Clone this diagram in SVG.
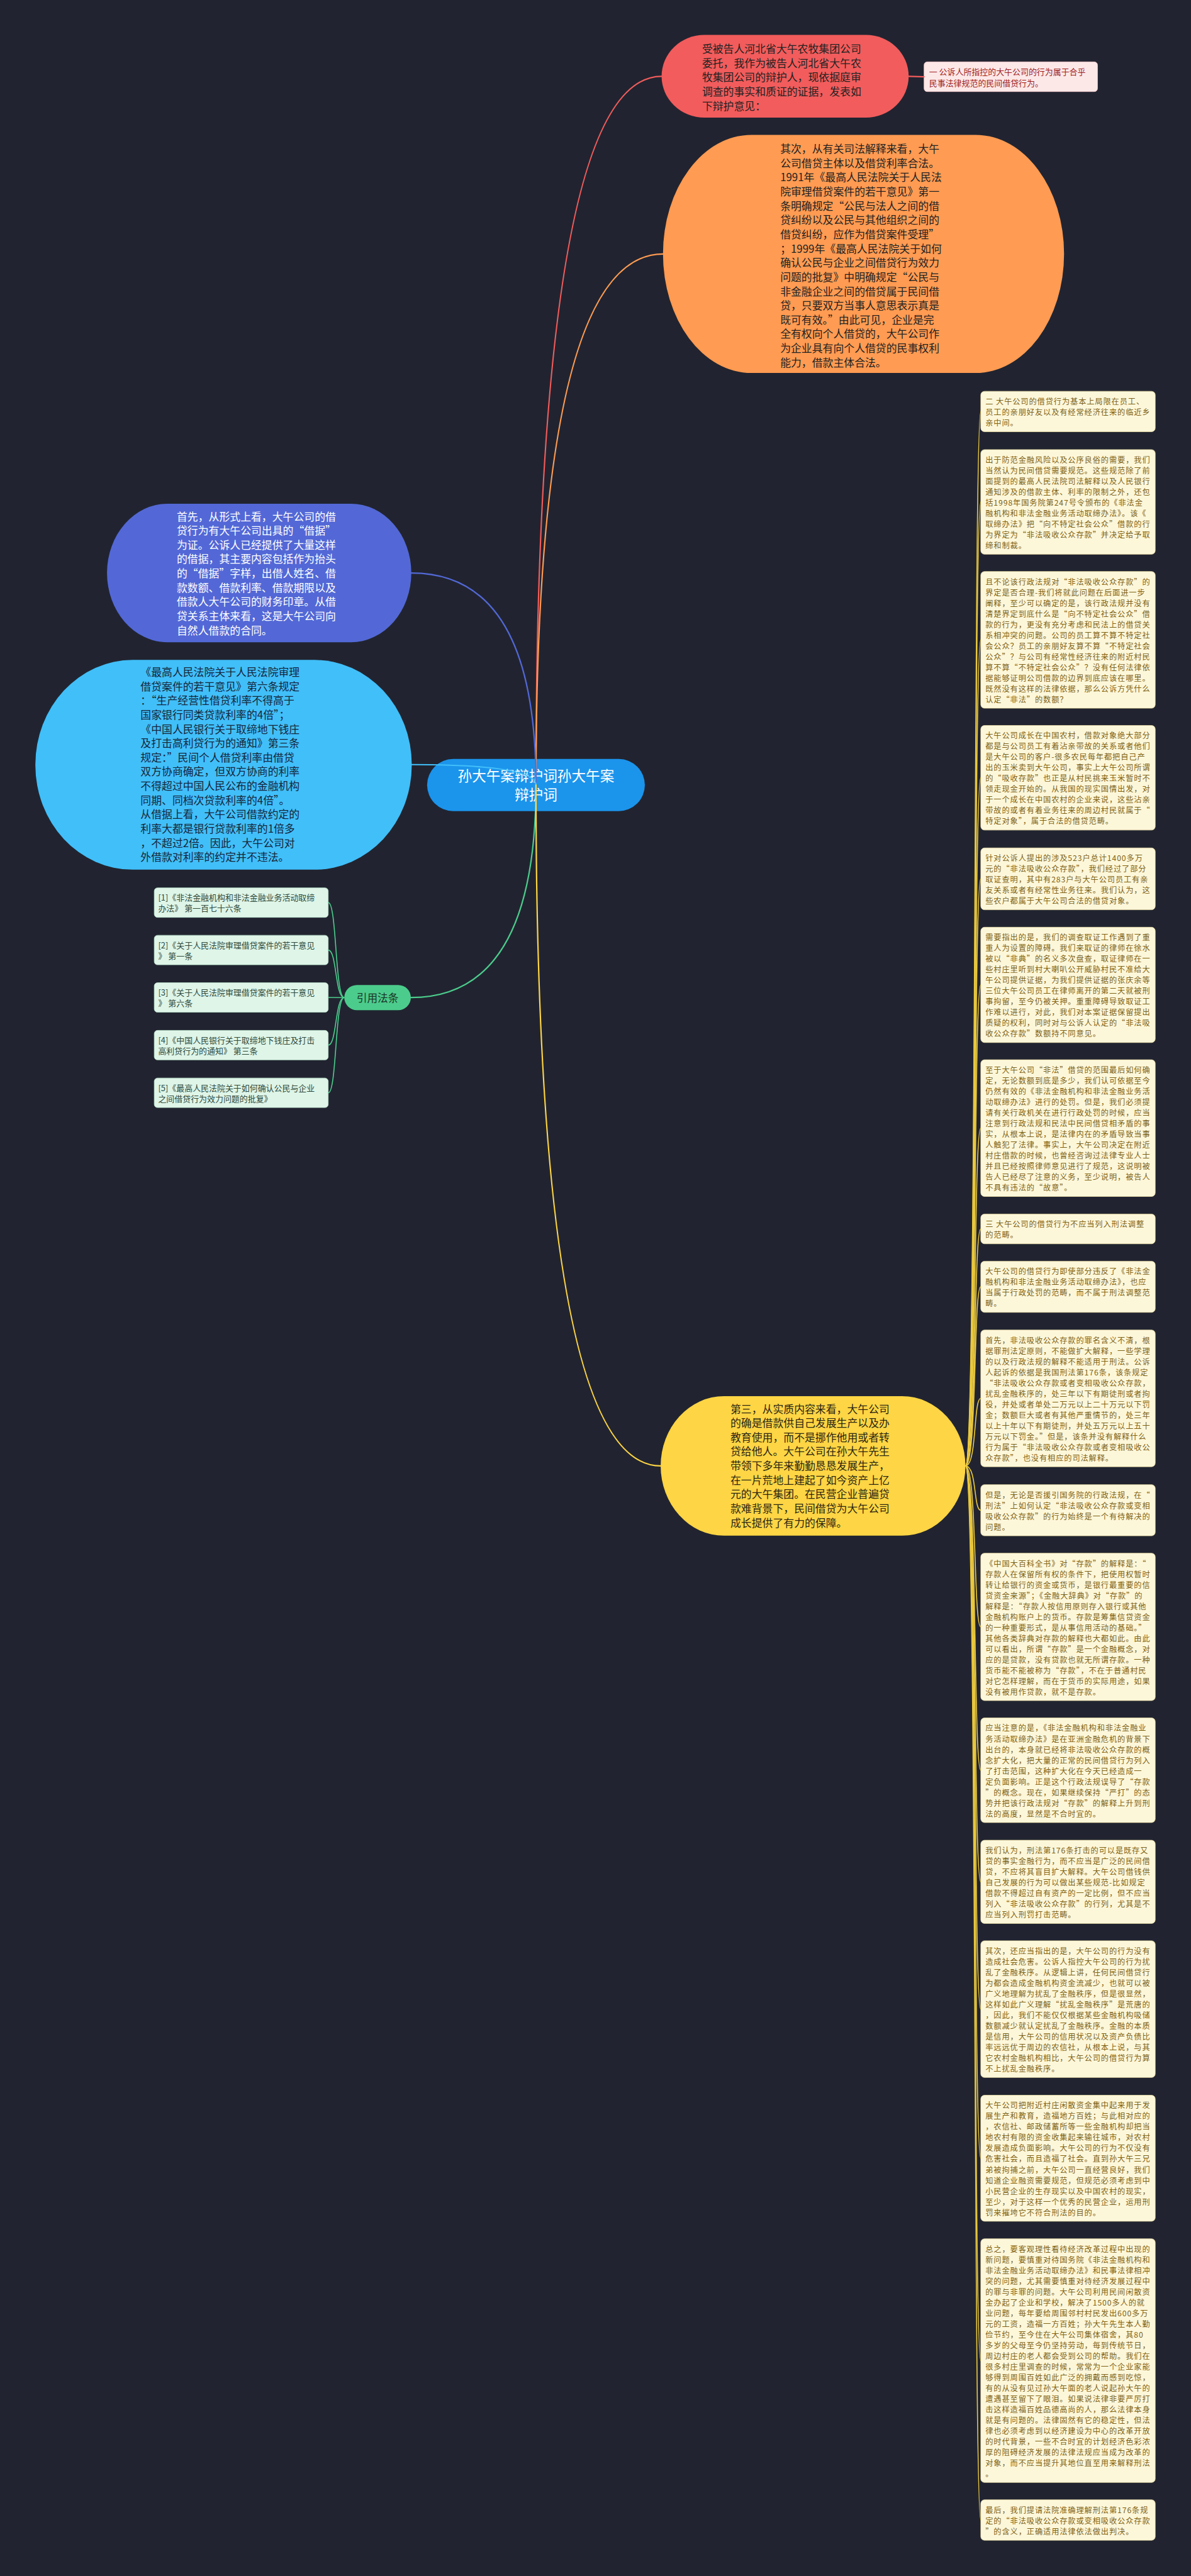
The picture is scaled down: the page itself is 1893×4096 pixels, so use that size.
<svg xmlns="http://www.w3.org/2000/svg" width="1893" height="4096" viewBox="0 0 1893 4096">
<style>
text{font-family:"Noto Sans CJK SC","Noto Sans",sans-serif}
.big{font-size:22.8px}
.dk{fill:#222222}
.wt{fill:#ffffff}
.nt{font-size:16.5px;letter-spacing:1.25px;fill:#7d6213}
.ct{font-size:17.5px;fill:#2f4a3c}
.note{fill:#fdf7da;stroke:#f1e2a8;stroke-width:1}
.cite{fill:#def5e8;stroke:#bfe6cf;stroke-width:1}
.ln{fill:none;stroke-width:3;stroke-linecap:round}
.yl{fill:none;stroke:#e9c83e;stroke-width:2.2}
.gl{fill:none;stroke:#4ccc8c;stroke-width:2.2}
</style>
<rect width="1893" height="4096" fill="#212430"/>
<g transform="scale(0.7395)">

<g id="node-center">
<rect x="918" y="1632" width="468" height="112" rx="56" fill="#1b94ec"/>
<text class="wt" font-size="30.6" text-anchor="middle"><tspan x="1152" y="1679.6">孙大午案辩护词孙大午案</tspan><tspan x="1152" dy="40">辩护词</tspan></text>
</g>

<g id="node-red">
<rect x="1422" y="75" width="531" height="178" rx="92" ry="89" fill="#f25c5c"/>
<text class="big dk"><tspan x="1509" y="113.6">受被告人河北省大午农牧集团公司</tspan><tspan x="1509" dy="30.6">委托，我作为被告人河北省大午农</tspan><tspan x="1509" dy="30.6">牧集团公司的辩护人，现依据庭审</tspan><tspan x="1509" dy="30.6">调查的事实和质证的证据，发表如</tspan><tspan x="1509" dy="30.6">下辩护意见：</tspan></text>
</g>

<g id="node-label1">
<rect x="1986" y="133" width="373" height="64" rx="7" fill="#fde8e8" stroke="#f4c4c4" stroke-width="1"/>
<text font-size="17.5" fill="#9e1e1e"><tspan x="1997" y="161">一 公诉人所指控的大午公司的行为属于合乎</tspan><tspan x="1997" dy="24">民事法律规范的民间借贷行为。</tspan></text>
</g>

<g id="node-orange">
<rect x="1425" y="290" width="862" height="512" rx="190" ry="256" fill="#ff9b52"/>
<text class="big dk"><tspan x="1677" y="328.9">其次，从有关司法解释来看，大午</tspan><tspan x="1677" dy="30.6">公司借贷主体以及借贷利率合法。</tspan><tspan x="1677" dy="30.6">1991年《最高人民法院关于人民法</tspan><tspan x="1677" dy="30.6">院审理借贷案件的若干意见》第一</tspan><tspan x="1677" dy="30.6">条明确规定“公民与法人之间的借</tspan><tspan x="1677" dy="30.6">贷纠纷以及公民与其他组织之间的</tspan><tspan x="1677" dy="30.6">借贷纠纷，应作为借贷案件受理”</tspan><tspan x="1677" dy="30.6">；1999年《最高人民法院关于如何</tspan><tspan x="1677" dy="30.6">确认公民与企业之间借贷行为效力</tspan><tspan x="1677" dy="30.6">问题的批复》中明确规定“公民与</tspan><tspan x="1677" dy="30.6">非金融企业之间的借贷属于民间借</tspan><tspan x="1677" dy="30.6">贷，只要双方当事人意思表示真是</tspan><tspan x="1677" dy="30.6">既可有效。”由此可见，企业是完</tspan><tspan x="1677" dy="30.6">全有权向个人借贷的，大午公司作</tspan><tspan x="1677" dy="30.6">为企业具有向个人借贷的民事权利</tspan><tspan x="1677" dy="30.6">能力，借款主体合法。</tspan></text>
</g>

<g id="node-blue">
<rect x="230" y="1083" width="654" height="298" rx="130" ry="149" fill="#5368d6"/>
<text class="big wt"><tspan x="380" y="1119">首先，从形式上看，大午公司的借</tspan><tspan x="380" dy="30.6">贷行为有大午公司出具的“借据”</tspan><tspan x="380" dy="30.6">为证。公诉人已经提供了大量这样</tspan><tspan x="380" dy="30.6">的借据，其主要内容包括作为抬头</tspan><tspan x="380" dy="30.6">的“借据”字样，出借人姓名、借</tspan><tspan x="380" dy="30.6">款数额、借款利率、借款期限以及</tspan><tspan x="380" dy="30.6">借款人大午公司的财务印章。从借</tspan><tspan x="380" dy="30.6">贷关系主体来看，这是大午公司向</tspan><tspan x="380" dy="30.6">自然人借款的合同。</tspan></text>
</g>

<g id="node-cyan">
<rect x="76" y="1419" width="809" height="451" rx="209" ry="225" fill="#41bff9"/>
<text class="big" fill="#15263a"><tspan x="302" y="1453.7">《最高人民法院关于人民法院审理</tspan><tspan x="302" dy="30.6">借贷案件的若干意见》第六条规定</tspan><tspan x="302" dy="30.6">：“生产经营性借贷利率不得高于</tspan><tspan x="302" dy="30.6">国家银行同类贷款利率的4倍”；</tspan><tspan x="302" dy="30.6">《中国人民银行关于取缔地下钱庄</tspan><tspan x="302" dy="30.6">及打击高利贷行为的通知》第三条</tspan><tspan x="302" dy="30.6">规定：”民间个人借贷利率由借贷</tspan><tspan x="302" dy="30.6">双方协商确定，但双方协商的利率</tspan><tspan x="302" dy="30.6">不得超过中国人民公布的金融机构</tspan><tspan x="302" dy="30.6">同期、同档次贷款利率的4倍”。</tspan><tspan x="302" dy="30.6">从借据上看，大午公司借款约定的</tspan><tspan x="302" dy="30.6">利率大都是银行贷款利率的1倍多</tspan><tspan x="302" dy="30.6">，不超过2倍。因此，大午公司对</tspan><tspan x="302" dy="30.6">外借款对利率的约定并不违法。</tspan></text>
</g>

<g id="node-cite">
<rect x="740" y="2118" width="143" height="54" rx="27" fill="#4ccc8c"/>
<text font-size="22.6" fill="#1b3526" text-anchor="middle" x="811.5" y="2153.6">引用法条</text>
</g>

<g id="cite-1"><rect class="cite" x="331.5" y="1909" width="374" height="63.5" rx="7"/><text class="ct"><tspan x="340" y="1937">[1]《非法金融机构和非法金融业务活动取缔</tspan><tspan x="340" dy="23">办法》 第一百七十六条</tspan></text></g>
<g id="cite-2"><rect class="cite" x="331.5" y="2011" width="374" height="63.5" rx="7"/><text class="ct"><tspan x="340" y="2039">[2]《关于人民法院审理借贷案件的若干意见</tspan><tspan x="340" dy="23">》 第一条</tspan></text></g>
<g id="cite-3"><rect class="cite" x="331.5" y="2113" width="374" height="63.5" rx="7"/><text class="ct"><tspan x="340" y="2141">[3]《关于人民法院审理借贷案件的若干意见</tspan><tspan x="340" dy="23">》 第六条</tspan></text></g>
<g id="cite-4"><rect class="cite" x="331.5" y="2215.5" width="374" height="63.5" rx="7"/><text class="ct"><tspan x="340" y="2243.5">[4]《中国人民银行关于取缔地下钱庄及打击</tspan><tspan x="340" dy="23">高利贷行为的通知》 第三条</tspan></text></g>
<g id="cite-5"><rect class="cite" x="331.5" y="2318" width="374" height="63.5" rx="7"/><text class="ct"><tspan x="340" y="2346">[5]《最高人民法院关于如何确认公民与企业</tspan><tspan x="340" dy="23">之间借贷行为效力问题的批复》</tspan></text></g>

<g id="node-yellow">
<rect x="1420" y="3002" width="655" height="300" rx="136" ry="150" fill="#fed544"/>
<text class="big" fill="#2b2713"><tspan x="1570" y="3038">第三，从实质内容来看，大午公司</tspan><tspan x="1570" dy="30.6">的确是借款供自己发展生产以及办</tspan><tspan x="1570" dy="30.6">教育使用，而不是挪作他用或者转</tspan><tspan x="1570" dy="30.6">贷给他人。大午公司在孙大午先生</tspan><tspan x="1570" dy="30.6">带领下多年来勤勤恳恳发展生产，</tspan><tspan x="1570" dy="30.6">在一片荒地上建起了如今资产上亿</tspan><tspan x="1570" dy="30.6">元的大午集团。在民营企业普遍贷</tspan><tspan x="1570" dy="30.6">款难背景下，民间借贷为大午公司</tspan><tspan x="1570" dy="30.6">成长提供了有力的保障。</tspan></text>
</g>

<g id="note-1"><rect class="note" x="2108" y="841.3" width="375" height="87" rx="8"/><text class="nt"><tspan x="2118" y="869.6">二 大午公司的借贷行为基本上局限在员工、</tspan><tspan x="2118" dy="23">员工的亲朋好友以及有经常经济往来的临近乡</tspan><tspan x="2118" dy="23">亲中间。</tspan></text></g>

<g id="note-2"><rect class="note" x="2108" y="966.75" width="375" height="225" rx="8"/><text class="nt"><tspan x="2118" y="995">出于防范金融风险以及公序良俗的需要，我们</tspan><tspan x="2118" dy="23">当然认为民间借贷需要规范。这些规范除了前</tspan><tspan x="2118" dy="23">面提到的最高人民法院司法解释以及人民银行</tspan><tspan x="2118" dy="23">通知涉及的借款主体、利率的限制之外，还包</tspan><tspan x="2118" dy="23">括1998年国务院第247号令颁布的《非法金</tspan><tspan x="2118" dy="23">融机构和非法金融业务活动取缔办法》。该《</tspan><tspan x="2118" dy="23">取缔办法》把“向不特定社会公众”借款的行</tspan><tspan x="2118" dy="23">为界定为“非法吸收公众存款”并决定给予取</tspan><tspan x="2118" dy="23">缔和制裁。</tspan></text></g>

<g id="note-3"><rect class="note" x="2108" y="1228.8" width="375" height="294" rx="8"/><text class="nt"><tspan x="2118" y="1257.1">且不论该行政法规对“非法吸收公众存款”的</tspan><tspan x="2118" dy="23">界定是否合理-我们将就此问题在后面进一步</tspan><tspan x="2118" dy="23">阐释，至少可以确定的是，该行政法规并没有</tspan><tspan x="2118" dy="23">清楚界定到底什么是“向不特定社会公众”借</tspan><tspan x="2118" dy="23">款的行为，更没有充分考虑和民法上的借贷关</tspan><tspan x="2118" dy="23">系相冲突的问题。公司的员工算不算不特定社</tspan><tspan x="2118" dy="23">会公众？员工的亲朋好友算不算“不特定社会</tspan><tspan x="2118" dy="23">公众”？与公司有经常性经济往来的附近村民</tspan><tspan x="2118" dy="23">算不算“不特定社会公众”？没有任何法律依</tspan><tspan x="2118" dy="23">据能够证明公司借款的边界到底应该在哪里。</tspan><tspan x="2118" dy="23">既然没有这样的法律依据，那么公诉方凭什么</tspan><tspan x="2118" dy="23">认定“非法”的数额？</tspan></text></g>

<g id="note-4"><rect class="note" x="2108" y="1559.8" width="375" height="225" rx="8"/><text class="nt"><tspan x="2118" y="1588.1">大午公司成长在中国农村，借款对象绝大部分</tspan><tspan x="2118" dy="23">都是与公司员工有着沾亲带故的关系或者他们</tspan><tspan x="2118" dy="23">是大午公司的客户-很多农民每年都把自己产</tspan><tspan x="2118" dy="23">出的玉米卖到大午公司，事实上大午公司所谓</tspan><tspan x="2118" dy="23">的“吸收存款”也正是从村民挑来玉米暂时不</tspan><tspan x="2118" dy="23">领走现金开始的。从我国的现实国情出发，对</tspan><tspan x="2118" dy="23">于一个成长在中国农村的企业来说，这些沾亲</tspan><tspan x="2118" dy="23">带故的或者有着业务往来的周边村民就属于“</tspan><tspan x="2118" dy="23">特定对象”，属于合法的借贷范畴。</tspan></text></g>

<g id="note-5"><rect class="note" x="2108" y="1823.2" width="375" height="133" rx="8"/><text class="nt"><tspan x="2118" y="1851.5">针对公诉人提出的涉及523户总计1400多万</tspan><tspan x="2118" dy="23">元的“非法吸收公众存款”，我们经过了部分</tspan><tspan x="2118" dy="23">取证查明，其中有283户与大午公司员工有亲</tspan><tspan x="2118" dy="23">友关系或者有经常性业务往来。我们认为，这</tspan><tspan x="2118" dy="23">些农户都属于大午公司合法的借贷对象。</tspan></text></g>

<g id="note-6"><rect class="note" x="2108" y="1993.7" width="375" height="248" rx="8"/><text class="nt"><tspan x="2118" y="2022">需要指出的是，我们的调查取证工作遇到了重</tspan><tspan x="2118" dy="23">重人为设置的障碍。我们来取证的律师在徐水</tspan><tspan x="2118" dy="23">被以“非典”的名义多次盘查，取证律师在一</tspan><tspan x="2118" dy="23">些村庄里听到村大喇叭公开威胁村民不准给大</tspan><tspan x="2118" dy="23">午公司提供证据，为我们提供证据的张庆余等</tspan><tspan x="2118" dy="23">三位大午公司员工在律师离开的第二天就被刑</tspan><tspan x="2118" dy="23">事拘留，至今仍被关押。重重障碍导致取证工</tspan><tspan x="2118" dy="23">作难以进行，对此，我们对本案证据保留提出</tspan><tspan x="2118" dy="23">质疑的权利，同时对与公诉人认定的“非法吸</tspan><tspan x="2118" dy="23">收公众存款”数额持不同意见。</tspan></text></g>

<g id="note-7"><rect class="note" x="2108" y="2278.7" width="375" height="294" rx="8"/><text class="nt"><tspan x="2118" y="2307">至于大午公司“非法”借贷的范围最后如何确</tspan><tspan x="2118" dy="23">定，无论数额到底是多少，我们认可依据至今</tspan><tspan x="2118" dy="23">仍然有效的《非法金融机构和非法金融业务活</tspan><tspan x="2118" dy="23">动取缔办法》进行的处罚。但是，我们必须提</tspan><tspan x="2118" dy="23">请有关行政机关在进行行政处罚的时候，应当</tspan><tspan x="2118" dy="23">注意到行政法规和民法中民间借贷相矛盾的事</tspan><tspan x="2118" dy="23">实，从根本上说，是法律内在的矛盾导致当事</tspan><tspan x="2118" dy="23">人触犯了法律。事实上，大午公司决定在附近</tspan><tspan x="2118" dy="23">村庄借款的时候，也曾经咨询过法律专业人士</tspan><tspan x="2118" dy="23">并且已经按照律师意见进行了规范，这说明被</tspan><tspan x="2118" dy="23">告人已经尽了注意的义务，至少说明，被告人</tspan><tspan x="2118" dy="23">不具有违法的“故意”。</tspan></text></g>

<g id="note-8"><rect class="note" x="2108" y="2610.4" width="375" height="64" rx="8"/><text class="nt"><tspan x="2118" y="2638.7">三 大午公司的借贷行为不应当列入刑法调整</tspan><tspan x="2118" dy="23">的范畴。</tspan></text></g>

<g id="note-9"><rect class="note" x="2108" y="2711.8" width="375" height="110" rx="8"/><text class="nt"><tspan x="2118" y="2740.1">大午公司的借贷行为即使部分违反了《非法金</tspan><tspan x="2118" dy="23">融机构和非法金融业务活动取缔办法》，也应</tspan><tspan x="2118" dy="23">当属于行政处罚的范畴，而不属于刑法调整范</tspan><tspan x="2118" dy="23">畴。</tspan></text></g>

<g id="note-10"><rect class="note" x="2108" y="2859.7" width="375" height="294" rx="8"/><text class="nt"><tspan x="2118" y="2888">首先，非法吸收公众存款的罪名含义不清，根</tspan><tspan x="2118" dy="23">据罪刑法定原则，不能做扩大解释，一些学理</tspan><tspan x="2118" dy="23">的以及行政法规的解释不能适用于刑法。公诉</tspan><tspan x="2118" dy="23">人起诉的依据是我国刑法第176条，该条规定</tspan><tspan x="2118" dy="23">“非法吸收公众存款或者变相吸收公众存款，</tspan><tspan x="2118" dy="23">扰乱金融秩序的，处三年以下有期徒刑或者拘</tspan><tspan x="2118" dy="23">役，并处或者单处二万元以上二十万元以下罚</tspan><tspan x="2118" dy="23">金；数额巨大或者有其他严重情节的，处三年</tspan><tspan x="2118" dy="23">以上十年以下有期徒刑，并处五万元以上五十</tspan><tspan x="2118" dy="23">万元以下罚金。”但是，该条并没有解释什么</tspan><tspan x="2118" dy="23">行为属于“非法吸收公众存款或者变相吸收公</tspan><tspan x="2118" dy="23">众存款”，也没有相应的司法解释。</tspan></text></g>

<g id="note-11"><rect class="note" x="2108" y="3192.3" width="375" height="110" rx="8"/><text class="nt"><tspan x="2118" y="3220.6">但是，无论是否援引国务院的行政法规，在“</tspan><tspan x="2118" dy="23">刑法”上如何认定“非法吸收公众存款或变相</tspan><tspan x="2118" dy="23">吸收公众存款”的行为始终是一个有待解决的</tspan><tspan x="2118" dy="23">问题。</tspan></text></g>

<g id="note-12"><rect class="note" x="2108" y="3339.6" width="375" height="317" rx="8"/><text class="nt"><tspan x="2118" y="3367.9">《中国大百科全书》对“存款”的解释是：“</tspan><tspan x="2118" dy="23">存款人在保留所有权的条件下，把使用权暂时</tspan><tspan x="2118" dy="23">转让给银行的资金或货币，是银行最重要的信</tspan><tspan x="2118" dy="23">贷资金来源”；《金融大辞典》对“存款”的</tspan><tspan x="2118" dy="23">解释是：“存款人按信用原则存入银行或其他</tspan><tspan x="2118" dy="23">金融机构账户上的货币。存款是筹集信贷资金</tspan><tspan x="2118" dy="23">的一种重要形式，是从事信用活动的基础。”</tspan><tspan x="2118" dy="23">其他各类辞典对存款的解释也大都如此。由此</tspan><tspan x="2118" dy="23">可以看出，所谓“存款”是一个金融概念，对</tspan><tspan x="2118" dy="23">应的是贷款，没有贷款也就无所谓存款。一种</tspan><tspan x="2118" dy="23">货币能不能被称为“存款”，不在于普通村民</tspan><tspan x="2118" dy="23">对它怎样理解，而在于货币的实际用途，如果</tspan><tspan x="2118" dy="23">没有被用作贷款，就不是存款。</tspan></text></g>

<g id="note-13"><rect class="note" x="2108" y="3693.8" width="375" height="225" rx="8"/><text class="nt"><tspan x="2118" y="3722.1">应当注意的是，《非法金融机构和非法金融业</tspan><tspan x="2118" dy="23">务活动取缔办法》是在亚洲金融危机的背景下</tspan><tspan x="2118" dy="23">出台的，本身就已经将非法吸收公众存款的概</tspan><tspan x="2118" dy="23">念扩大化，把大量的正常的民间借贷行为列入</tspan><tspan x="2118" dy="23">了打击范围，这种扩大化在今天已经造成一</tspan><tspan x="2118" dy="23">定负面影响。正是这个行政法规误导了“存款</tspan><tspan x="2118" dy="23">”的概念。现在，如果继续保持“严打”的态</tspan><tspan x="2118" dy="23">势并把该行政法规对“存款”的解释上升到刑</tspan><tspan x="2118" dy="23">法的高度，显然是不合时宜的。</tspan></text></g>

<g id="note-14"><rect class="note" x="2108" y="3956.8" width="375" height="179" rx="8"/><text class="nt"><tspan x="2118" y="3985.1">我们认为，刑法第176条打击的可以是既存又</tspan><tspan x="2118" dy="23">贷的事实金融行为，而不应当是广泛的民间借</tspan><tspan x="2118" dy="23">贷，不应将其盲目扩大解释。大午公司借钱供</tspan><tspan x="2118" dy="23">自己发展的行为可以做出某些规范-比如规定</tspan><tspan x="2118" dy="23">借款不得超过自有资产的一定比例，但不应当</tspan><tspan x="2118" dy="23">列入“非法吸收公众存款”的行列，尤其是不</tspan><tspan x="2118" dy="23">应当列入刑罚打击范畴。</tspan></text></g>

<g id="note-15"><rect class="note" x="2108" y="4173" width="375" height="294" rx="8"/><text class="nt"><tspan x="2118" y="4201.3">其次，还应当指出的是，大午公司的行为没有</tspan><tspan x="2118" dy="23">造成社会危害。公诉人指控大午公司的行为扰</tspan><tspan x="2118" dy="23">乱了金融秩序。从逻辑上讲，任何民间借贷行</tspan><tspan x="2118" dy="23">为都会造成金融机构资金流减少，也就可以被</tspan><tspan x="2118" dy="23">广义地理解为扰乱了金融秩序，但是很显然，</tspan><tspan x="2118" dy="23">这样如此广义理解“扰乱金融秩序”是荒唐的</tspan><tspan x="2118" dy="23">，因此，我们不能仅仅根据某些金融机构吸储</tspan><tspan x="2118" dy="23">数额减少就认定扰乱了金融秩序。金融的本质</tspan><tspan x="2118" dy="23">是信用，大午公司的信用状况以及资产负债比</tspan><tspan x="2118" dy="23">率远远优于周边的农信社，从根本上说，与其</tspan><tspan x="2118" dy="23">它农村金融机构相比，大午公司的借贷行为算</tspan><tspan x="2118" dy="23">不上扰乱金融秩序。</tspan></text></g>

<g id="note-16"><rect class="note" x="2108" y="4505.1" width="375" height="271" rx="8"/><text class="nt"><tspan x="2118" y="4533.4">大午公司把附近村庄闲散资金集中起来用于发</tspan><tspan x="2118" dy="23">展生产和教育，造福地方百姓；与此相对应的</tspan><tspan x="2118" dy="23">，农信社、邮政储蓄所等一些金融机构却把当</tspan><tspan x="2118" dy="23">地农村有限的资金收集起来输往城市，对农村</tspan><tspan x="2118" dy="23">发展造成负面影响。大午公司的行为不仅没有</tspan><tspan x="2118" dy="23">危害社会，而且造福了社会。直到孙大午三兄</tspan><tspan x="2118" dy="23">弟被拘捕之前，大午公司一直经营良好，我们</tspan><tspan x="2118" dy="23">知道企业融资需要规范，但规范必须考虑到中</tspan><tspan x="2118" dy="23">小民营企业的生存现实以及中国农村的现实，</tspan><tspan x="2118" dy="23">至少，对于这样一个优秀的民营企业，运用刑</tspan><tspan x="2118" dy="23">罚来摧垮它不符合刑法的目的。</tspan></text></g>

<g id="note-17"><rect class="note" x="2108" y="4813.8" width="375" height="524" rx="8"/><text class="nt"><tspan x="2118" y="4842.1">总之，要客观理性看待经济改革过程中出现的</tspan><tspan x="2118" dy="23">新问题，要慎重对待国务院《非法金融机构和</tspan><tspan x="2118" dy="23">非法金融业务活动取缔办法》和民事法律相冲</tspan><tspan x="2118" dy="23">突的问题，尤其需要慎重对待经济发展过程中</tspan><tspan x="2118" dy="23">的罪与非罪的问题。大午公司利用民间闲散资</tspan><tspan x="2118" dy="23">金办起了企业和学校，解决了1500多人的就</tspan><tspan x="2118" dy="23">业问题，每年要给周围邻村村民发出600多万</tspan><tspan x="2118" dy="23">元的工资，造福一方百姓；孙大午先生本人勤</tspan><tspan x="2118" dy="23">俭节约，至今住在大午公司集体宿舍，其80</tspan><tspan x="2118" dy="23">多岁的父母至今仍坚持劳动，每到传统节日，</tspan><tspan x="2118" dy="23">周边村庄的老人都会受到公司的帮助。我们在</tspan><tspan x="2118" dy="23">很多村庄里调查的时候，常常为一个企业家能</tspan><tspan x="2118" dy="23">够得到周围百姓如此广泛的拥戴而感到吃惊，</tspan><tspan x="2118" dy="23">有的从没有见过孙大午面的老人说起孙大午的</tspan><tspan x="2118" dy="23">遭遇甚至留下了眼泪。如果说法律非要严厉打</tspan><tspan x="2118" dy="23">击这样造福百姓品德高尚的人，那么法律本身</tspan><tspan x="2118" dy="23">就是有问题的。法律固然有它的稳定性，但法</tspan><tspan x="2118" dy="23">律也必须考虑到以经济建设为中心的改革开放</tspan><tspan x="2118" dy="23">的时代背景，一些不合时宜的计划经济色彩浓</tspan><tspan x="2118" dy="23">厚的阻碍经济发展的法律法规应当成为改革的</tspan><tspan x="2118" dy="23">对象，而不应当提升其地位直至用来解释刑法</tspan><tspan x="2118" dy="23">。</tspan></text></g>

<g id="note-18"><rect class="note" x="2108" y="5375" width="375" height="87" rx="8"/><text class="nt"><tspan x="2118" y="5403.3">最后，我们提请法院准确理解刑法第176条规</tspan><tspan x="2118" dy="23">定的“非法吸收公众存款或变相吸收公众存款</tspan><tspan x="2118" dy="23">”的含义，正确适用法律依法做出判决。</tspan></text></g>

<g id="connectors">
<path class="ln" stroke="#f25c5c" d="M1152,1688 Q1152,164 1422,164"/>
<path class="ln" stroke="#f25c5c" d="M1953,164 L1986,165"/>
<path class="ln" stroke="#ff9b52" d="M1152,1688 Q1152,546 1425,546"/>
<path class="ln" stroke="#5368d6" d="M1152,1688 Q1152,1232 884,1232"/>
<path class="ln" stroke="#41bff9" d="M1152,1688 Q1152,1644 885,1644"/>
<path class="ln" stroke="#4ccc8c" d="M1152,1688 Q1152,2145 883,2145"/>
<path class="ln" stroke="#fed544" d="M1152,1688 Q1152,3152 1420,3152"/>
<path class="gl" d="M740,2145 C720,2145 724,1940.75 705.5,1940.75"/>
<path class="gl" d="M740,2145 C720,2145 724,2042.75 705.5,2042.75"/>
<path class="gl" d="M740,2145 L705.5,2144.75"/>
<path class="gl" d="M740,2145 C720,2145 724,2247.25 705.5,2247.25"/>
<path class="gl" d="M740,2145 C720,2145 724,2349.75 705.5,2349.75"/>
<path class="yl" d="M2075,3152 C2100,3152 2092,884.8 2108,884.8"/>
<path class="yl" d="M2075,3152 C2100,3152 2092,1079.25 2108,1079.25"/>
<path class="yl" d="M2075,3152 C2100,3152 2092,1375.8 2108,1375.8"/>
<path class="yl" d="M2075,3152 C2100,3152 2092,1672.3 2108,1672.3"/>
<path class="yl" d="M2075,3152 C2100,3152 2092,1889.7 2108,1889.7"/>
<path class="yl" d="M2075,3152 C2100,3152 2092,2117.7 2108,2117.7"/>
<path class="yl" d="M2075,3152 C2100,3152 2092,2425.7 2108,2425.7"/>
<path class="yl" d="M2075,3152 C2100,3152 2092,2642.4 2108,2642.4"/>
<path class="yl" d="M2075,3152 C2100,3152 2092,2766.8 2108,2766.8"/>
<path class="yl" d="M2075,3152 C2100,3152 2092,3006.7 2108,3006.7"/>
<path class="yl" d="M2075,3152 C2100,3152 2092,3247.3 2108,3247.3"/>
<path class="yl" d="M2075,3152 C2100,3152 2092,3498.1 2108,3498.1"/>
<path class="yl" d="M2075,3152 C2100,3152 2092,3806.3 2108,3806.3"/>
<path class="yl" d="M2075,3152 C2100,3152 2092,4046.3 2108,4046.3"/>
<path class="yl" d="M2075,3152 C2100,3152 2092,4320 2108,4320"/>
<path class="yl" d="M2075,3152 C2100,3152 2092,4640.6 2108,4640.6"/>
<path class="yl" d="M2075,3152 C2100,3152 2092,5075.8 2108,5075.8"/>
<path class="yl" d="M2075,3152 C2100,3152 2092,5418.5 2108,5418.5"/>
</g>
</g>
</svg>
